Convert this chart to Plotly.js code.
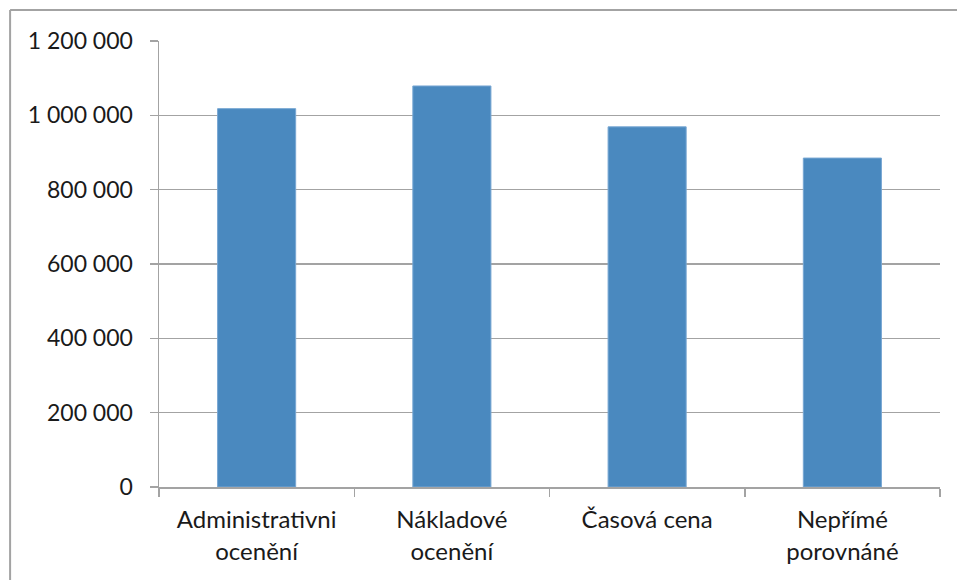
<!DOCTYPE html>
<html>
<head>
<meta charset="utf-8">
<script src="https://cdn.plot.ly/plotly-3.0.1.min.js"></script>
<style>
html,body{margin:0;padding:0;background:#fff;}
#chart{width:957px;height:580px;}
</style>
</head>
<body>
<div id="chart"></div>
<script>
const categories = ["Administrativni<br>ocenění", "Nákladové<br>ocenění", "Časová cena", "Nepřímé<br>porovnáné"];
const values = [1018000, 1079000, 969000, 885000];
const yTickValues = [0, 200000, 400000, 600000, 800000, 1000000, 1200000];

const gray = "#a3a3a3";
const L = 159, R = 940.5, T = 41, B = 487.5, W = 957, H = 580;
const pw = R - L, ph = B - T;
const px = v => (v - L) / pw;
const py = v => (B - v) / ph;

const data = [{
  type: "bar",
  x: categories,
  y: values,
  width: 0.4,
  marker: {color: "#4a89bf", line: {color: "#78a7d3", width: 1}},
  hoverinfo: "x+y"
}];

const layout = {
  width: W, height: H,
  margin: {l: L, r: W - R, t: T, b: H - B},
  paper_bgcolor: "#fff",
  plot_bgcolor: "#fff",
  separators: ", ",
  showlegend: false,
  font: {family: "Lato, 'Open Sans', sans-serif", size: 23, color: "#1a1a1a"},
  xaxis: {
    type: "category",
    tickson: "boundaries",
    ticks: "outside",
    ticklen: 8,
    tickcolor: gray,
    tickwidth: 1.5,
    showline: true,
    linecolor: gray,
    linewidth: 1.5,
    showgrid: false,
    zeroline: false,
    ticklabelstandoff: 11,
    tickfont: {size: 24, color: "#1a1a1a"},
    fixedrange: true
  },
  yaxis: {
    range: [0, 1200000],
    tickvals: yTickValues,
    tickformat: ",d",
    ticks: "outside",
    ticklen: 8,
    tickcolor: gray,
    tickwidth: 1.5,
    showline: true,
    linecolor: gray,
    linewidth: 1.5,
    showgrid: true,
    gridcolor: gray,
    gridwidth: 1.5,
    zeroline: false,
    ticklabelstandoff: 12,
    tickfont: {size: 23, color: "#1a1a1a"},
    fixedrange: true
  },
  shapes: [
    {type: "line", xref: "paper", yref: "paper", x0: px(10), x1: px(W + 5), y0: py(10), y1: py(10),
     line: {color: gray, width: 2}},
    {type: "line", xref: "paper", yref: "paper", x0: px(10), x1: px(10), y0: py(10), y1: py(H + 5),
     line: {color: gray, width: 2}}
  ]
};

Plotly.newPlot("chart", data, layout, {displayModeBar: false, staticPlot: true});
</script>
</body>
</html>
